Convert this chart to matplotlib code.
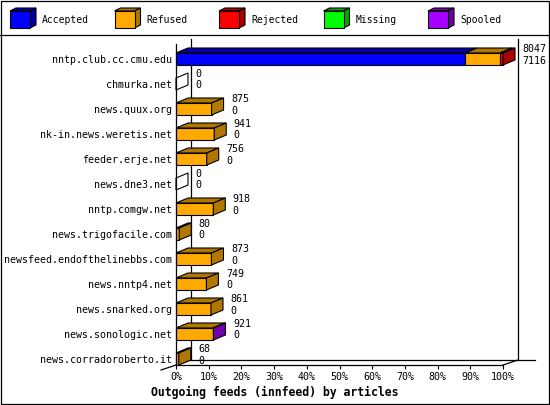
import matplotlib
matplotlib.use("Agg")
import matplotlib.pyplot as plt
from matplotlib.patches import Rectangle, Polygon

# servers and article counts
servers = ["nntp.club.cc.cmu.edu", "chmurka.net", "news.quux.org",
           "nk-in.news.weretis.net", "feeder.erje.net", "news.dne3.net",
           "nntp.comgw.net", "news.trigofacile.com", "newsfeed.endofthelinebbs.com",
           "news.nntp4.net", "news.snarked.org", "news.sonologic.net",
           "news.corradoroberto.it"]
offered = [8047, 0, 875, 941, 756, 0, 918, 80, 873, 749, 861, 921, 68]
accepted = [7116, 0, 0, 0, 0, 0, 0, 0, 0, 0, 0, 0, 0]
refused = [855, 0, 875, 941, 756, 0, 918, 80, 873, 749, 861, 911, 68]
rejected = [76, 0, 0, 0, 0, 0, 0, 0, 0, 0, 0, 0, 0]
missing = [0, 0, 0, 0, 0, 0, 0, 0, 0, 0, 0, 0, 0]
spooled = [0, 0, 0, 0, 0, 0, 0, 0, 0, 0, 0, 10, 0]

legend_names = ["Accepted", "Refused", "Rejected", "Missing", "Spooled"]
x_ticks = [0, 10, 20, 30, 40, 50, 60, 70, 80, 90, 100]
title = "Outgoing feeds (innfeed) by articles"

front_cols = ["#0000FF", "#FFAA00", "#FF0000", "#00FF00", "#AA00FF"]
dark_cols = ["#0000A8", "#B07800", "#AA0000", "#00A800", "#7000A8"]

mono = "DejaVu Sans Mono"
W, H = 550, 405

fig = plt.figure(figsize=(5.5, 4.05), dpi=100)

# full-figure pixel axes for borders and legend
frame = fig.add_axes([0, 0, 1, 1])
frame.set_xlim(0, W)
frame.set_ylim(H, 0)
frame.axis("off")
frame.add_patch(Rectangle((0.5, 0.5), W - 1.5, H - 1.5, fill=False, lw=0.9, ec="black"))
frame.plot([0, W], [34.5, 34.5], color="black", lw=0.9)

for i, name in enumerate(legend_names):
    x0 = 10 + 104.5 * i
    frame.add_patch(Polygon([(x0, 11), (x0 + 20, 11), (x0 + 26, 8), (x0 + 6, 8)],
                            fc=dark_cols[i], ec="black", lw=0.8))
    frame.add_patch(Polygon([(x0 + 20, 11), (x0 + 26, 8), (x0 + 26, 25), (x0 + 20, 28)],
                            fc=dark_cols[i], ec="black", lw=0.8))
    frame.add_patch(Rectangle((x0, 11), 20, 17, fc=front_cols[i], ec="black", lw=0.8))
    frame.text(x0 + 32, 20, name, fontsize=7, family=mono, va="center", ha="left")

frame.text(W / 2, 392, title, fontsize=8.3, family=mono, weight="bold",
           ha="center", va="center")

# plot axes: front plane 0..100%, rows 0..12
ax = fig.add_axes([176 / W, (H - 365) / H, 327 / W, 326 / H])
n = len(servers)
ax.set_xlim(0, 100)
ax.set_ylim(n - 1 + 0.24, -0.8)
ax.patch.set_alpha(0)

px_x = 3.27   # pixels per percent
px_y = 25.0   # pixels per row
bdx, bdy = 12 / px_x, -5 / px_y     # bar depth
fdx, fdy = 15 / px_x, -5 / px_y     # floor / wall depth
h = 0.24
bottom = n - 1 + 0.24

# walls and floor
ax.plot([fdx, fdx], [-0.8, bottom + fdy], color="black", lw=0.9, zorder=0.5, clip_on=False)
ax.plot([100 + fdx, 100 + fdx], [-0.8, bottom + fdy], color="black", lw=0.9, zorder=0.5, clip_on=False)
ax.plot([fdx, 109.8], [bottom + fdy, bottom + fdy], color="black", lw=0.9, zorder=0.5, clip_on=False)
ax.plot([-fdx, fdx], [bottom - fdy, bottom + fdy], color="black", lw=0.9, zorder=0.5, clip_on=False)
ax.plot([100, 100 + fdx], [bottom, bottom + fdy], color="black", lw=0.9, zorder=0.5, clip_on=False)

for s in ["top", "right"]:
    ax.spines[s].set_visible(False)
ax.spines["left"].set_bounds(bottom, -0.6)
ax.spines["bottom"].set_bounds(0, 100)
ax.spines["left"].set_linewidth(0.9)
ax.spines["bottom"].set_linewidth(0.9)

ax.set_xticks(x_ticks)
ax.set_xticklabels([str(t) + "%" for t in x_ticks], fontsize=7.2, family=mono)
ax.set_yticks(range(n))
ax.set_yticklabels(servers, fontsize=7.2, family=mono)
ax.tick_params(axis="x", length=3, width=0.8, pad=2)
ax.tick_params(axis="y", length=0, pad=3)

top = max(offered)
for r in range(n):
    segs = [accepted[r], refused[r], rejected[r], missing[r], spooled[r]]
    x0 = 0.0
    last = None
    for k, v in enumerate(segs):
        if v <= 0:
            continue
        w = v / top * 100
        ax.add_patch(Polygon([(x0, r - h), (x0 + w, r - h), (x0 + w + bdx, r - h + bdy),
                              (x0 + bdx, r - h + bdy)],
                             fc=dark_cols[k], ec="black", lw=0.8, zorder=2, clip_on=False))
        ax.add_patch(Rectangle((x0, r - h), w, 2 * h, fc=front_cols[k], ec="black",
                               lw=0.8, zorder=2, clip_on=False))
        x0 += w
        last = k
    side_fc = dark_cols[last] if last is not None else "none"
    ax.add_patch(Polygon([(x0, r - h), (x0 + bdx, r - h + bdy), (x0 + bdx, r + h + bdy),
                          (x0, r + h)],
                         fc=side_fc, ec="black", lw=0.8, zorder=2, clip_on=False))
    tx = x0 + bdx + 7.5 / px_x
    ax.text(tx, r - 0.4, str(offered[r]), fontsize=7.2, family=mono, va="center",
            ha="left", clip_on=False)
    ax.text(tx, r + 0.06, str(accepted[r]), fontsize=7.2, family=mono, va="center",
            ha="left", clip_on=False)

fig.savefig("out.png", dpi=100)
